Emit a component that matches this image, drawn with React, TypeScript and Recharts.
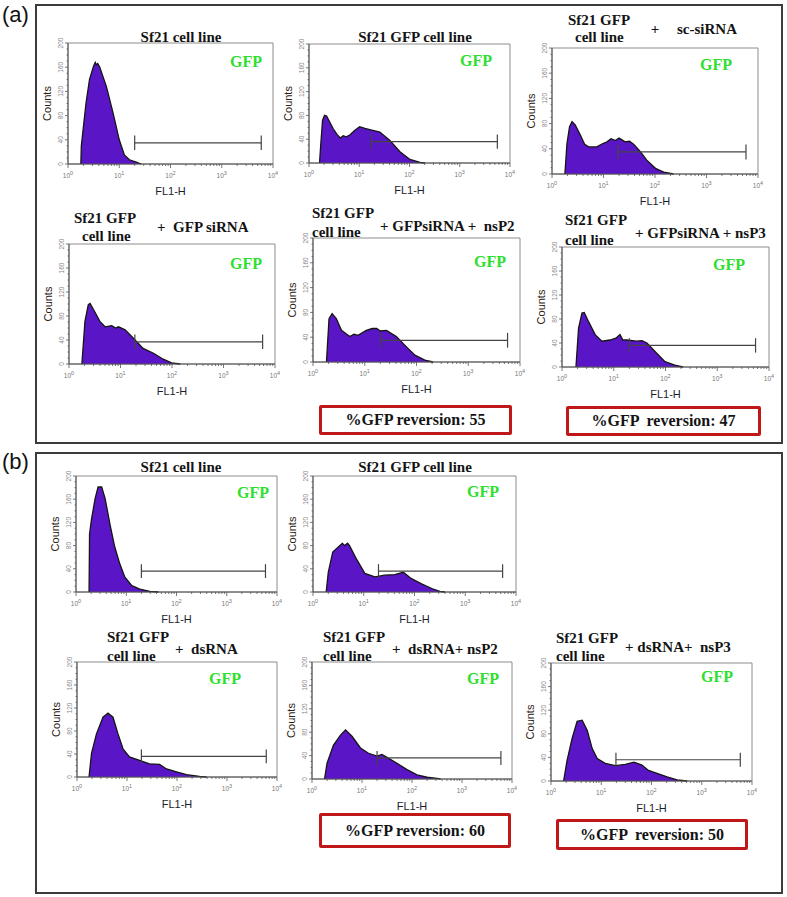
import React from "react";
import { Area, ComposedChart, ReferenceArea, ReferenceLine, XAxis, YAxis } from "recharts";

type Pt = [number, number]; // [FL1-H, counts]
type Gate = [number, number, number]; // [from, to, counts level]

// panel (a) histograms
const A_SF21: Pt[] = [[1.78, 0], [1.82, 30], [1.91, 46], [2.24, 100], [2.63, 140], [3.16, 162], [3.4, 168], [3.55, 164], [3.8, 166], [4.17, 160], [5.62, 128], [7.59, 84], [10, 40], [12.6, 15], [15.8, 7], [21.4, 3], [26.9, 0]];
const A_GFP: Pt[] = [[1.62, 0], [1.7, 27], [1.86, 72], [2.04, 80], [2.24, 79], [3.02, 58], [3.6, 48], [4.2, 42], [4.79, 46], [5.5, 44], [6.46, 47], [8.2, 55], [10.2, 61], [13, 58], [16.2, 56], [25.7, 52], [40.7, 38], [64.6, 19], [102, 6], [162, 1], [204, 0]];
const A_SC: Pt[] = [[1.78, 0], [1.95, 48], [2.19, 75], [2.45, 83], [2.82, 78], [3.55, 62], [4.3, 47], [5.13, 43], [7.41, 43], [9.5, 48], [11.7, 51], [14, 56], [17, 53], [20, 57], [26.3, 51], [32, 52], [38.9, 47], [52.5, 35], [69.2, 22], [102, 9], [148, 3], [229, 0]];
const A_SI: Pt[] = [[1.78, 0], [2.04, 71], [2.37, 99], [2.57, 101], [3.16, 87], [3.98, 71], [5.01, 62], [6.76, 64], [8, 60], [9.12, 62], [12.3, 57], [17.8, 43], [27.5, 26], [43.7, 18], [67.6, 8], [97.7, 2], [145, 0]];
const A_NSP2: Pt[] = [[1.82, 0], [2.04, 70], [2.34, 78], [2.82, 70], [3.55, 51], [5.13, 41], [6.2, 45], [7.41, 43], [10.7, 51], [14, 54], [17, 54], [20, 50], [26.3, 51], [40.7, 41], [64.6, 24], [93.3, 11], [145, 3], [209, 0]];
const A_NSP3: Pt[] = [[1.86, 0], [2.09, 65], [2.43, 90], [2.69, 91], [3.24, 76], [4.37, 54], [5.89, 43], [8.51, 45], [11, 48], [13.2, 54], [15, 45], [17.8, 45], [27.5, 43], [35, 44], [43.7, 40], [67.6, 23], [97.7, 9], [151, 3], [219, 0]];

// panel (b) histograms
const B_SF21: Pt[] = [[1.82, 0], [1.86, 100], [2.04, 126], [2.4, 161], [2.75, 181], [3.24, 181], [3.8, 161], [4.79, 115], [5.89, 78], [7.41, 49], [9.33, 26], [12.9, 11], [18.6, 5], [29.5, 1], [43.7, 0]];
const B_GFP: Pt[] = [[1.82, 0], [2, 34], [2.45, 69], [3.39, 80], [3.8, 84], [4.22, 80], [4.8, 84], [5.25, 80], [7.16, 57], [10.5, 32], [16.6, 26], [25.7, 29], [40.7, 30], [60.3, 34], [87.1, 23], [138, 14], [219, 6], [316, 1], [398, 0]];
const B_DS: Pt[] = [[1.74, 0], [1.95, 41], [2.45, 75], [3.31, 104], [4.17, 111], [5.25, 104], [6.61, 75], [8.32, 49], [11.2, 35], [17.8, 29], [28.2, 23], [44.7, 22], [61.7, 14], [97.7, 9], [155, 4], [282, 1], [389, 0]];
const B_NSP2: Pt[] = [[1.78, 0], [2, 27], [2.69, 58], [3.72, 75], [4.68, 84], [6.31, 73], [9.33, 53], [13.5, 44], [20, 39], [25, 42], [31.6, 37], [50.1, 27], [79.4, 16], [126, 7], [200, 3], [316, 1], [372, 0]];
const B_NSP3: Pt[] = [[1.78, 0], [2.09, 35], [2.63, 72], [3.31, 101], [4.17, 103], [5.25, 86], [6.61, 55], [8.32, 38], [12, 30], [19.1, 26], [30.2, 28], [44.7, 32], [64.6, 27], [87.1, 18], [129, 13], [204, 7], [324, 2], [513, 0]];

// M1 gate markers
const GATES: Gate[] = [
  [20, 5900, 35], [17.5, 5600, 36], [19, 5850, 35], [19, 5750, 37], [20, 5750, 35], [20, 5500, 36],
  [20, 5900, 36], [19.5, 5450, 36], [19.4, 6100, 36], [20, 6000, 36], [19.6, 5850, 36],
];

const REVERSION = [55, 47, 60, 50];

const DECADES = [1, 10, 100, 1000];
const X_TICKS = [...DECADES.flatMap((d) => [1, 2, 3, 4, 5, 6, 7, 8, 9].map((m) => m * d)), 10000];
const Y_TICKS = [0, 10, 20, 30, 40, 50, 60, 70, 80, 90, 100, 110, 120, 130, 140, 150, 160, 170, 180, 190, 200];

const SERIF = "'Liberation Serif', 'Times New Roman', serif";
const SANS = "'Liberation Sans', Arial, sans-serif";

type TitlePart = { text: string; x: number; y: number; center?: boolean };
type Plot = { box: [number, number, number, number]; points: Pt[]; gfp: [number, number]; title: TitlePart[] };

const PLOTS: Plot[] = [
  { box: [68, 43, 273, 164], points: A_SF21, gfp: [246, 62], title: [{ text: "Sf21 cell line", x: 181, y: 37, center: true }] },
  { box: [309, 44, 510, 163], points: A_GFP, gfp: [476, 61], title: [{ text: "Sf21 GFP cell line", x: 415, y: 37, center: true }] },
  {
    box: [552, 48, 758, 174], points: A_SC, gfp: [716, 65],
    title: [{ text: "Sf21 GFP", x: 568, y: 20 }, { text: "cell line", x: 575, y: 37 }, { text: "+", x: 655, y: 29, center: true }, { text: "sc-siRNA", x: 677, y: 29 }],
  },
  {
    box: [69, 244, 275, 364], points: A_SI, gfp: [246, 264],
    title: [{ text: "Sf21 GFP", x: 74, y: 218 }, { text: "cell line", x: 82, y: 236 }, { text: "+  GFP siRNA", x: 157, y: 227 }],
  },
  {
    box: [313, 238, 520, 362], points: A_NSP2, gfp: [490, 262],
    title: [{ text: "Sf21 GFP", x: 312, y: 213 }, { text: "cell line", x: 312, y: 232 }, { text: "+ GFPsiRNA +  nsP2", x: 380, y: 226 }],
  },
  {
    box: [562, 247, 769, 367], points: A_NSP3, gfp: [729, 265],
    title: [{ text: "Sf21 GFP", x: 565, y: 220 }, { text: "cell line", x: 565, y: 240 }, { text: "+ GFPsiRNA + nsP3", x: 635, y: 233 }],
  },
  { box: [76, 476, 277, 592], points: B_SF21, gfp: [253, 493], title: [{ text: "Sf21 cell line", x: 181, y: 467, center: true }] },
  { box: [313, 476, 516, 592], points: B_GFP, gfp: [483, 492], title: [{ text: "Sf21 GFP cell line", x: 415, y: 467, center: true }] },
  {
    box: [77, 662, 277, 777], points: B_DS, gfp: [225, 679],
    title: [{ text: "Sf21 GFP", x: 107, y: 637 }, { text: "cell line", x: 107, y: 656 }, { text: "+  dsRNA", x: 175, y: 649 }],
  },
  {
    box: [312, 662, 512, 779], points: B_NSP2, gfp: [483, 679],
    title: [{ text: "Sf21 GFP", x: 323, y: 637 }, { text: "cell line", x: 323, y: 656 }, { text: "+  dsRNA+ nsP2", x: 392, y: 649 }],
  },
  {
    box: [551, 663, 752, 781], points: B_NSP3, gfp: [717, 677],
    title: [{ text: "Sf21 GFP", x: 556, y: 638 }, { text: "cell line", x: 556, y: 656 }, { text: "+ dsRNA+  nsP3", x: 625, y: 647 }],
  },
];

const BOXES: [number, number, number, number][] = [
  [319, 405, 512, 435],
  [566, 406, 761, 436],
  [319, 813, 511, 848],
  [556, 819, 748, 850],
];

const ML = 30;
const MT = 5;

function XTick(props: any) {
  const { x, y, payload } = props;
  const lg = Math.log10(payload.value);
  const exp = Math.round(lg);
  const major = Math.abs(lg - exp) < 1e-9;
  return (
    <g>
      <line x1={x} x2={x} y1={y} y2={y + (major ? 4 : 2)} stroke="#555" strokeWidth={0.8} />
      {major && (
        <text x={x} y={y + 14} textAnchor="middle" fontSize={6.5} fill="#777" fontFamily={SANS}>
          10
          <tspan dy={-3} fontSize={5.5}>
            {exp}
          </tspan>
        </text>
      )}
    </g>
  );
}

function YTick(props: any) {
  const { x, y, payload } = props;
  const major = payload.value % 40 === 0;
  const tx = x - 5;
  return (
    <g>
      <line x1={x} x2={x - (major ? 3 : 1.5)} y1={y} y2={y} stroke="#555" strokeWidth={0.8} />
      {major && (
        <text x={tx} y={y} transform={`rotate(-90 ${tx} ${y})`} textAnchor="middle" fontSize={6.5} fill="#888" fontFamily={SANS}>
          {payload.value}
        </text>
      )}
    </g>
  );
}

function Histogram({ plot, gate }: { plot: Plot; gate: Gate }) {
  const [l, t, r, b] = plot.box;
  const w = r - l;
  const h = b - t;
  const data = plot.points.map(([fl, count]) => ({ fl, count }));
  const [lo, hi, gy] = gate;
  return (
    <div style={{ position: "absolute", left: l - ML, top: t - MT }}>
      <ComposedChart width={w + ML + 5} height={h + MT + 35} data={data} margin={{ top: MT, right: 5, bottom: 0, left: 0 }}>
        <XAxis
          dataKey="fl"
          type="number"
          scale="log"
          domain={[1, 10000]}
          allowDataOverflow
          ticks={X_TICKS}
          interval={0}
          tick={(p: any) => <XTick {...p} />}
          tickLine={false}
          tickSize={0}
          tickMargin={0}
          height={35}
          stroke="#555"
          label={() => (
            <text x={ML + w / 2} y={MT + h + 31} textAnchor="middle" fontSize={11} fill="#1c1c2c" fontFamily={SANS}>
              FL1-H
            </text>
          )}
        />
        <YAxis
          type="number"
          domain={[0, 200]}
          ticks={Y_TICKS}
          interval={0}
          tick={(p: any) => <YTick {...p} />}
          tickLine={false}
          tickSize={0}
          tickMargin={0}
          width={ML}
          stroke="#555"
          label={() => (
            <text
              x={ML - 17}
              y={MT + h / 2}
              transform={`rotate(-90 ${ML - 17} ${MT + h / 2})`}
              textAnchor="middle"
              fontSize={11}
              fill="#2a2010"
              fontFamily={SANS}
            >
              Counts
            </text>
          )}
        />
        <ReferenceArea x1={1} x2={10000} y1={0} y2={200} fill="none" stroke="#8c8c8c" strokeWidth={1} ifOverflow="visible" />
        <Area
          dataKey="count"
          type="linear"
          baseValue={0}
          fill="#5a16c6"
          fillOpacity={1}
          stroke="#151515"
          strokeWidth={1.3}
          dot={false}
          activeDot={false}
          isAnimationActive={false}
        />
        <ReferenceLine segment={[{ x: lo, y: gy }, { x: hi, y: gy }]} stroke="#444" strokeWidth={1.2} />
        <ReferenceLine segment={[{ x: lo, y: gy - 12 }, { x: lo, y: gy + 12 }]} stroke="#444" strokeWidth={1.2} />
        <ReferenceLine segment={[{ x: hi, y: gy - 12 }, { x: hi, y: gy + 12 }]} stroke="#444" strokeWidth={1.2} />
      </ComposedChart>
    </div>
  );
}

const titleStyle: React.CSSProperties = {
  position: "absolute",
  fontFamily: SERIF,
  fontWeight: "bold",
  fontSize: 15,
  lineHeight: "16px",
  color: "#141414",
  whiteSpace: "pre",
};

export default function App() {
  return (
    <div style={{ position: "absolute", left: 0, top: 0, width: 787, height: 897, background: "#fff", overflow: "hidden" }}>
      <div style={{ position: "absolute", left: 35, top: 4, width: 744, height: 436, border: "2px solid #3c3c3c" }} />
      <div style={{ position: "absolute", left: 35, top: 452, width: 744, height: 438, border: "2px solid #3c3c3c" }} />
      <div style={{ position: "absolute", left: 2, top: 2, fontFamily: SANS, fontSize: 22, color: "#111" }}>(a)</div>
      <div style={{ position: "absolute", left: 2, top: 449, fontFamily: SANS, fontSize: 22, color: "#111" }}>(b)</div>

      {PLOTS.map((p, i) => (
        <React.Fragment key={i}>
          <Histogram plot={p} gate={GATES[i]} />
          {p.title.map((tp, j) => (
            <div
              key={j}
              style={{
                ...titleStyle,
                left: tp.x,
                top: tp.y - 8,
                transform: tp.center ? "translateX(-50%)" : undefined,
              }}
            >
              {tp.text}
            </div>
          ))}
          <div
            style={{
              position: "absolute",
              left: p.gfp[0],
              top: p.gfp[1] - 9,
              transform: "translateX(-50%)",
              fontFamily: SERIF,
              fontWeight: "bold",
              fontSize: 16,
              lineHeight: "18px",
              color: "#2ee02e",
            }}
          >
            GFP
          </div>
        </React.Fragment>
      ))}

      {BOXES.map(([l, t, r, b], i) => (
        <div
          key={i}
          style={{
            position: "absolute",
            left: l,
            top: t,
            width: r - l - 6,
            height: b - t - 6,
            border: "3px solid #c01818",
            borderRadius: 2,
            display: "flex",
            alignItems: "center",
            justifyContent: "center",
            fontFamily: SERIF,
            fontWeight: "bold",
            fontSize: 16,
            color: "#141414",
            whiteSpace: "pre",
          }}
        >
          {`%GFP ${i % 2 === 1 ? " " : ""}reversion: ${REVERSION[i]}`}
        </div>
      ))}
    </div>
  );
}
